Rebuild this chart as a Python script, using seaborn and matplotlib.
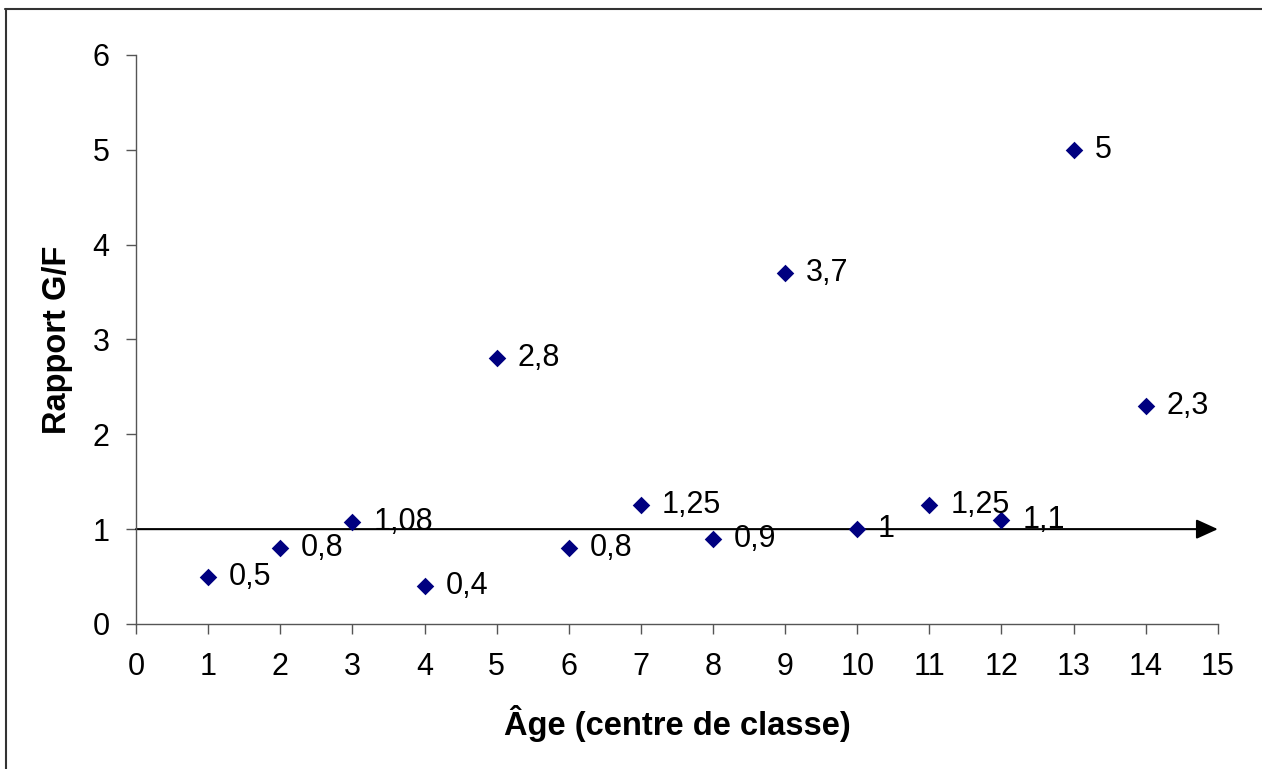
import matplotlib
matplotlib.use("Agg")
import matplotlib.pyplot as plt
import seaborn as sns
import pandas as pd
from matplotlib.lines import Line2D

ages = [1, 2, 3, 4, 5, 6, 7, 8, 9, 10, 11, 12, 13, 14]
ratios = [0.5, 0.8, 1.08, 0.4, 2.8, 0.8, 1.25, 0.9, 3.7, 1.0, 1.25, 1.1, 5.0, 2.3]
labels = ["0,5", "0,8", "1,08", "0,4", "2,8", "0,8", "1,25", "0,9", "3,7", "1", "1,25", "1,1", "5", "2,3"]
x_ticks = list(range(0, 16))
y_ticks = list(range(0, 7))

sns.set_theme(style="white")
plt.rcParams['font.family'] = ['Liberation Sans', 'DejaVu Sans']

df = pd.DataFrame({"age": ages, "ratio": ratios})

fig = plt.figure(figsize=(12.62, 7.69), dpi=100)
ax = fig.add_axes([0.1078, 0.1886, 0.965 - 0.1078, 0.9285 - 0.1886])

sns.scatterplot(data=df, x="age", y="ratio", marker="D", color="#000080",
                s=80, edgecolor="#000080", linewidth=0, ax=ax, zorder=3)

for xv, yv, lab in zip(ages, ratios, labels):
    ax.annotate(lab, (xv, yv), xytext=(15, 0), textcoords="offset points",
                ha="left", va="center", fontsize=22, color="black", zorder=4)

# reference arrow at ratio = 1
ax.annotate("", xy=(15, 1), xytext=(0, 1),
            arrowprops=dict(arrowstyle="-|>,head_length=1.1,head_width=0.5",
                            color="black", lw=1.5, shrinkA=0, shrinkB=0),
            zorder=2)

ax.set_xlim(0, 15)
ax.set_ylim(0, 6)
ax.set_xticks(x_ticks)
ax.set_yticks(y_ticks)
ax.tick_params(axis="both", which="major", labelsize=22, length=7, width=1,
               direction="out", color="#555555", labelcolor="black",
               bottom=True, left=True)
ax.tick_params(axis="x", pad=13)
ax.tick_params(axis="y", pad=12)
for side in ["top", "right"]:
    ax.spines[side].set_visible(False)
for side in ["left", "bottom"]:
    ax.spines[side].set_color("#555555")
    ax.spines[side].set_linewidth(1)

ax.set_xlabel("Âge (centre de classe)", fontsize=23.5, fontweight="bold",
              labelpad=17, color="black")
ax.set_ylabel("Rapport G/F", fontsize=23.5, fontweight="bold", labelpad=14,
              color="black")

# outer frame (only top and left edges visible in the reference)
fig.lines.append(Line2D([0.004, 1.0], [0.9885, 0.9885], transform=fig.transFigure,
                        color="#333333", linewidth=1.5))
fig.lines.append(Line2D([0.0045, 0.0045], [0.0, 0.9885], transform=fig.transFigure,
                        color="#333333", linewidth=1.5))

fig.savefig("out.png", dpi=100)
